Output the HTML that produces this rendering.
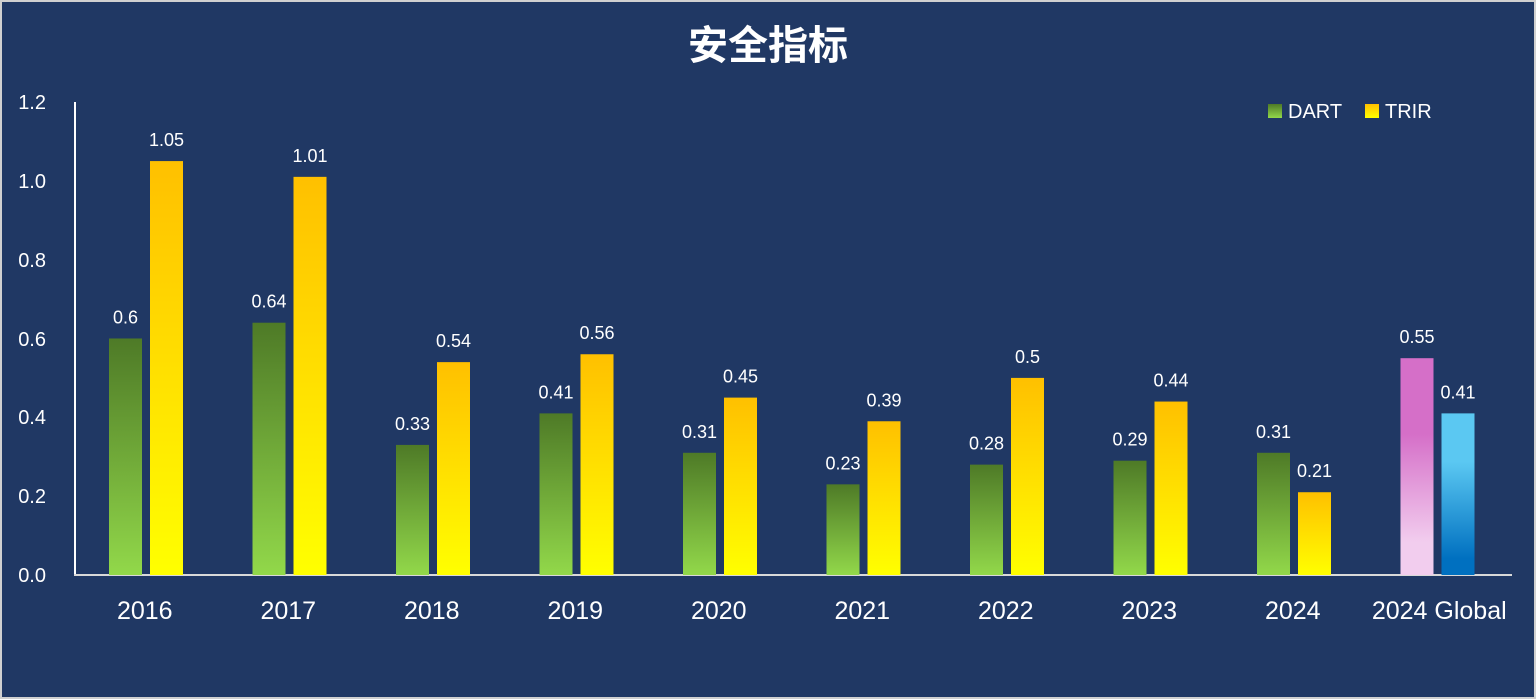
<!DOCTYPE html>
<html><head><meta charset="utf-8"><style>
html,body{margin:0;padding:0;background:#203864;}
svg{display:block;}
text{font-family:"Liberation Sans","Noto Sans CJK SC",sans-serif;fill:#fff;}
</style></head><body>
<svg width="1536" height="699" xmlns="http://www.w3.org/2000/svg">
<defs>
<linearGradient id="g" x1="0" y1="0" x2="0" y2="1"><stop offset="0" stop-color="#4e7a27"/><stop offset="1" stop-color="#92d84a"/></linearGradient>
<linearGradient id="y" x1="0" y1="0" x2="0" y2="1"><stop offset="0" stop-color="#ffc000"/><stop offset="1" stop-color="#ffff00"/></linearGradient>
<linearGradient id="p" x1="0" y1="0" x2="0" y2="1"><stop offset="0" stop-color="#d56fc8"/><stop offset="0.35" stop-color="#d56fc8"/><stop offset="0.85" stop-color="#f2cdee"/><stop offset="1" stop-color="#f2cdee"/></linearGradient>
<linearGradient id="b" x1="0" y1="0" x2="0" y2="1"><stop offset="0" stop-color="#5bc8f2"/><stop offset="0.3" stop-color="#5bc8f2"/><stop offset="0.9" stop-color="#0070c0"/><stop offset="1" stop-color="#0070c0"/></linearGradient>
</defs>
<rect x="0" y="0" width="1536" height="699" fill="#203864"/>
<rect x="1" y="1" width="1534" height="697" fill="none" stroke="#d0d0d0" stroke-width="2"/>
<text x="768" y="59" text-anchor="middle" font-size="40" font-weight="bold">安全指标</text>
<g font-size="20" text-anchor="end">
<text x="46" y="109">1.2</text><text x="46" y="188">1.0</text><text x="46" y="267">0.8</text>
<text x="46" y="346">0.6</text><text x="46" y="424">0.4</text><text x="46" y="503">0.2</text><text x="46" y="582">0.0</text>
</g>
<line x1="75" y1="102" x2="75" y2="575" stroke="#fff" stroke-width="2"/>
<line x1="74" y1="575" x2="1512" y2="575" stroke="#d9d9d9" stroke-width="2"/>
<g id="bars"></g>
<rect x="1268" y="104" width="14" height="14" fill="url(#g)"/><text x="1288" y="118" font-size="20">DART</text>
<rect x="1365" y="104" width="14" height="14" fill="url(#y)"/><text x="1385" y="118" font-size="20">TRIR</text>
</svg>
<script>
var d=[["2016",.6,1.05],["2017",.64,1.01],["2018",.33,.54],["2019",.41,.56],["2020",.31,.45],["2021",.23,.39],["2022",.28,.5],["2023",.29,.44],["2024",.31,.21],["2024 Global",.55,.41]];
var s='';d.forEach(function(r,i){var c=75+143.5*i+71.75;var f1=i==9?'p':'g',f2=i==9?'b':'y';
[[r[1],c-37.75,f1],[r[2],c+3.25,f2]].forEach(function(q){var h=q[0]*394.2,t=575-h;
s+='<rect x="'+q[1]+'" y="'+t+'" width="33" height="'+h+'" fill="url(#'+q[2]+')"/>';
s+='<text x="'+(q[1]+16.5)+'" y="'+(t-15)+'" font-size="18" text-anchor="middle">'+q[0]+'</text>';});
s+='<text x="'+(i==9?c+1:c-2)+'" y="619" font-size="25" text-anchor="middle">'+r[0]+'</text>';});
document.getElementById('bars').innerHTML=s;
</script>
</body></html>
